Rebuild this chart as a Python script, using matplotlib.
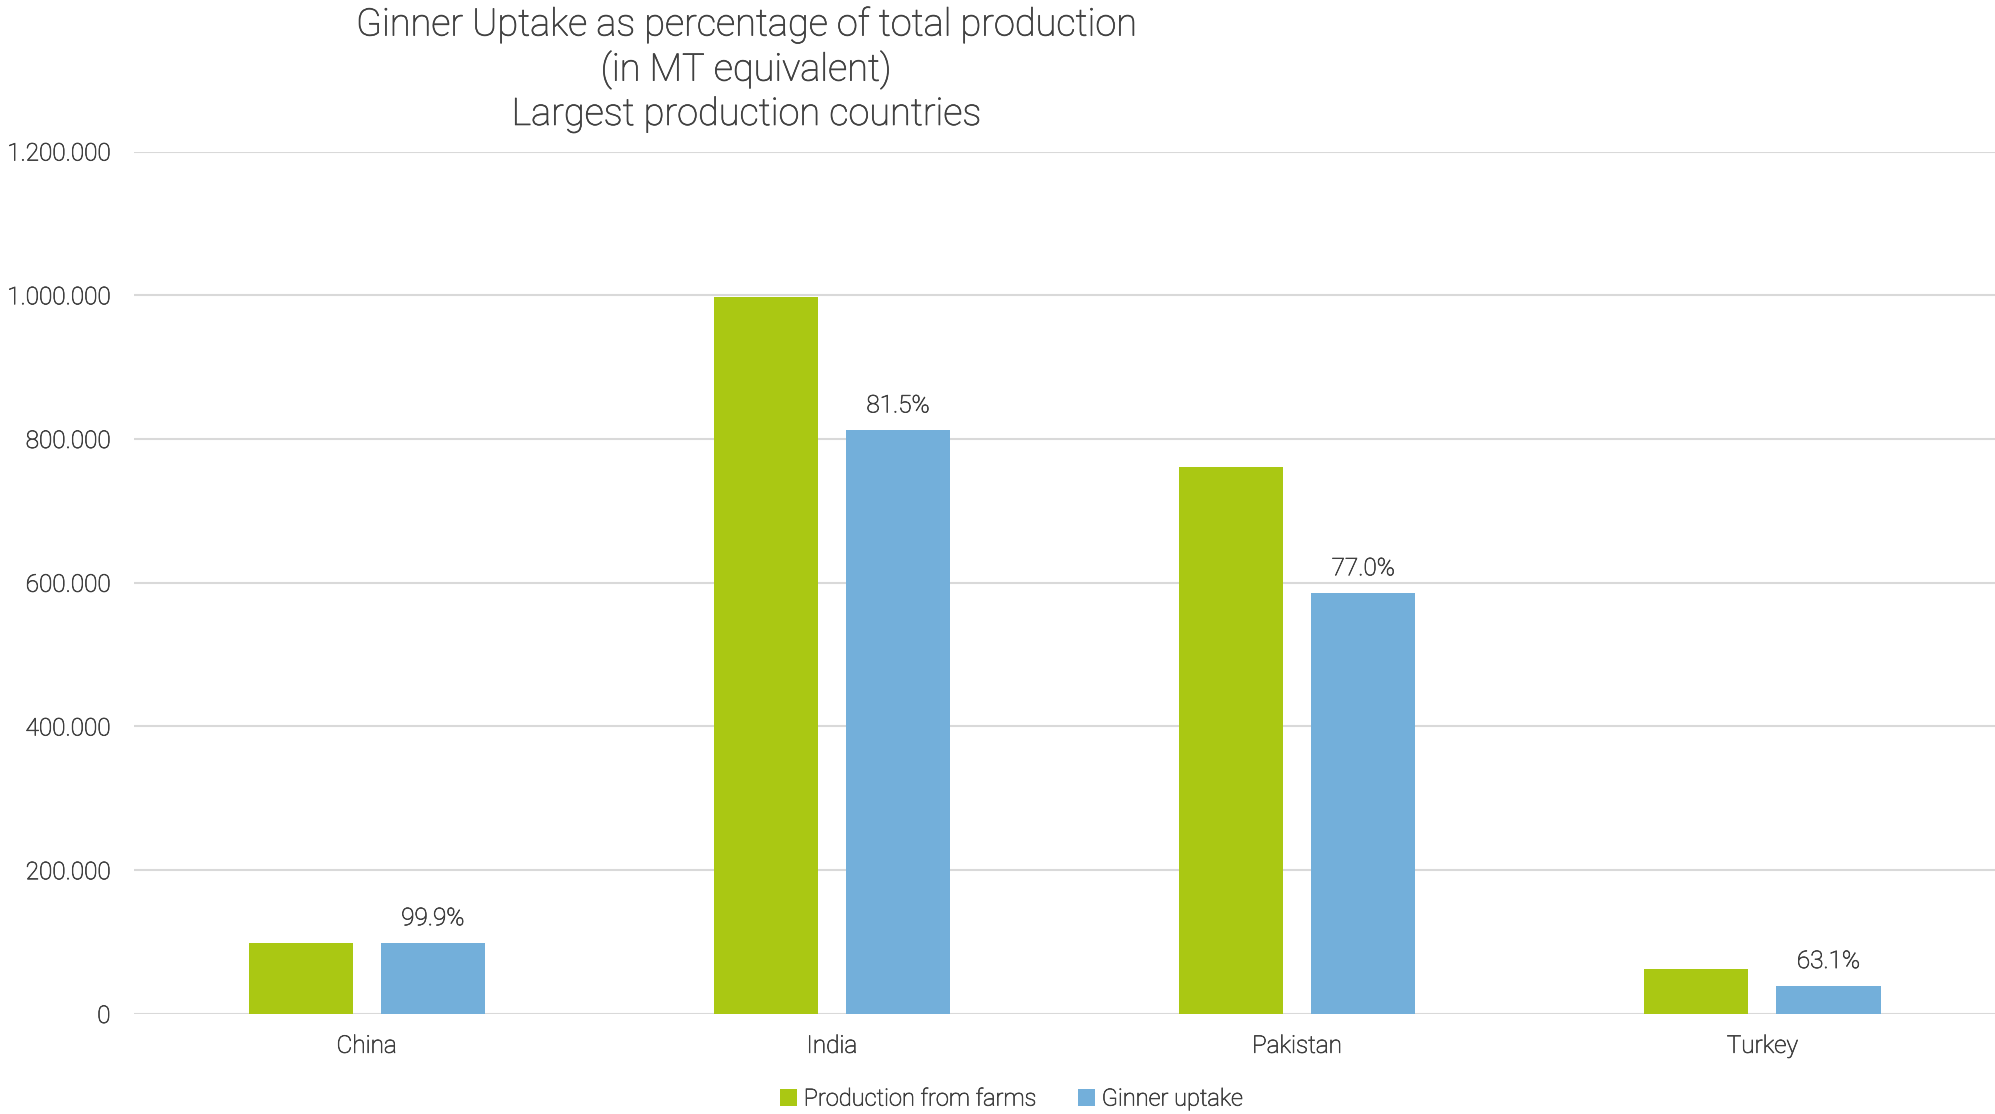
import numpy as np
import matplotlib.pyplot as plt
import matplotlib.patheffects as pe

countries = ["China", "India", "Pakistan", "Turkey"]
production = [99300, 997000, 761000, 62600]
ginner = [99200, 812600, 586000, 39500]
pct_labels = ["99.9%", "81.5%", "77.0%", "63.1%"]
yticks = [0, 200000, 400000, 600000, 800000, 1000000, 1200000]
ytick_labels = ["0", "200.000", "400.000", "600.000", "800.000", "1.000.000", "1.200.000"]

green = "#AAC813"
blue = "#73AFDA"
txt = "#404040"

plt.rcParams['font.family'] = ['Roboto', 'DejaVu Sans']
plt.rcParams['font.weight'] = 'light'

fig = plt.figure(figsize=(19.95, 11.14), dpi=100)
ax = fig.add_axes([0.0672, 0.0898, 0.9328, 0.7742])

x = np.arange(len(countries))
w = 0.224
off = 0.142
ax.bar(x - off, production, w, color=green, label="Production from farms", zorder=3)
b2 = ax.bar(x + off, ginner, w, color=blue, label="Ginner uptake", zorder=3)

thick = [pe.withStroke(linewidth=0.5, foreground=txt)]

for rect, lab in zip(b2, pct_labels):
    ax.annotate(lab, (rect.get_x() + rect.get_width() / 2, rect.get_height()),
                xytext=(0, 9), textcoords="offset points", ha="center", va="bottom",
                fontsize=17.5, color=txt, path_effects=thick)

ax.set_xlim(-0.5, 3.5)
ax.set_ylim(0, 1200000)
ax.set_yticks(yticks)
ax.set_yticklabels(ytick_labels)
ax.set_xticks(x)
ax.set_xticklabels(countries)
ax.tick_params(axis='y', length=0, pad=17, labelsize=17.5, labelcolor=txt)
ax.tick_params(axis='x', length=0, pad=15, labelsize=17.5, labelcolor=txt)
for t in ax.get_xticklabels() + ax.get_yticklabels():
    t.set_path_effects(thick)
ax.grid(axis='y', color="#D9D9D9", linewidth=1.5, zorder=0)
for s in ax.spines.values():
    s.set_visible(False)

fig.text(0.374, 0.995, "Ginner Uptake as percentage of total production\n(in MT equivalent)\nLargest production countries",
         ha="center", va="top", fontsize=27.3, color=txt, linespacing=1.2, path_effects=thick)

leg = fig.legend(loc="lower center", bbox_to_anchor=(0.507, -0.016), ncol=2, frameon=False,
                 fontsize=17, handlelength=0.7, handleheight=0.7, handletextpad=0.3,
                 columnspacing=1.8, labelcolor=txt)
for t in leg.get_texts():
    t.set_path_effects(thick)

fig.savefig("out.png", dpi=100)
